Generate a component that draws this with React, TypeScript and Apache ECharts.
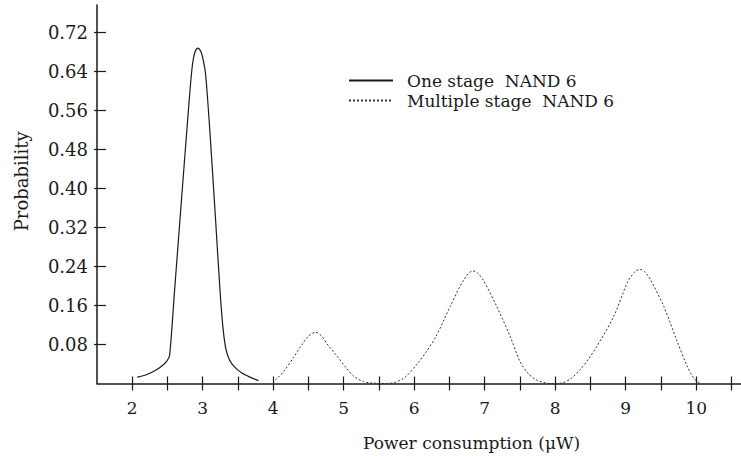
import React, { useEffect, useRef } from "react";
import * as echarts from "echarts";

const seriesNames = ["One stage  NAND 6", "Multiple stage  NAND 6"];

const oneStageX = [2.07, 2.2, 2.32, 2.42, 2.49, 2.53, 2.6, 2.7, 2.78, 2.83, 2.86, 2.89, 2.93, 2.97, 3.0, 3.04, 3.1, 3.18, 3.25, 3.29, 3.33, 3.38, 3.45, 3.55, 3.67, 3.79];
const oneStageY = [0.013, 0.018, 0.026, 0.036, 0.046, 0.058, 0.19, 0.38, 0.53, 0.62, 0.66, 0.68, 0.688, 0.682, 0.668, 0.635, 0.52, 0.34, 0.18, 0.11, 0.07, 0.048, 0.034, 0.022, 0.013, 0.006];

const multiStageX = [4.03, 4.15, 4.29, 4.38, 4.5, 4.6, 4.68, 4.78, 4.9, 5.03, 5.15, 5.28, 5.4, 5.55, 5.72, 5.87, 6.03, 6.17, 6.31, 6.51, 6.7, 6.83, 6.9, 6.98, 7.17, 7.36, 7.5, 7.62, 7.74, 7.93, 8.09, 8.22, 8.35, 8.47, 8.59, 8.83, 9.02, 9.12, 9.2, 9.27, 9.35, 9.54, 9.72, 9.87, 9.97, 10.06];
const multiStageY = [0.007, 0.025, 0.054, 0.074, 0.097, 0.105, 0.098, 0.078, 0.057, 0.033, 0.014, 0.004, 0.001, 0.0, 0.002, 0.013, 0.038, 0.065, 0.097, 0.158, 0.212, 0.231, 0.226, 0.212, 0.158, 0.097, 0.045, 0.02, 0.007, 0.0, 0.001, 0.01, 0.028, 0.05, 0.076, 0.138, 0.206, 0.228, 0.234, 0.229, 0.213, 0.158, 0.09, 0.036, 0.01, 0.0];

const yTickValues = [0.08, 0.16, 0.24, 0.32, 0.4, 0.48, 0.56, 0.64, 0.72];
const xTickValues = [2, 2.5, 3, 3.5, 4, 4.5, 5, 5.5, 6, 6.5, 7, 7.5, 8, 8.5, 9, 9.5, 10, 10.5];
const xLabelValues = [2, 3, 4, 5, 6, 7, 8, 9, 10];

const xTitle = "Power consumption (μW)";
const yTitle = "Probability";

const X_MIN = 1.5;
const X_MAX = 10.635;
const Y_MIN = 0;
const Y_MAX = 0.7764;

const FONT = "DejaVu Serif";
const INK = "#1a1a1a";

function zip(xs: number[], ys: number[]) {
  return xs.map((x, i) => [x, ys[i]]);
}

export default function App() {
  const ref = useRef<HTMLDivElement>(null);

  useEffect(() => {
    if (!ref.current) return;
    const chart = echarts.init(ref.current, null, { renderer: "svg" });
    const gridBox = { left: 97, right: 0, top: 5, bottom: 72.5 };
    chart.setOption({
      animation: false,
      backgroundColor: "#ffffff",
      title: {
        text: xTitle,
        left: 363,
        top: 434,
        padding: 0,
        textStyle: { fontFamily: FONT, fontSize: 17, fontWeight: "normal", color: INK },
      },
      legend: {
        orient: "vertical",
        left: 348,
        top: 72,
        padding: 0,
        itemWidth: 44,
        itemHeight: 14,
        itemGap: 3,
        data: seriesNames,
        itemStyle: { opacity: 0 },
        textStyle: { fontFamily: FONT, fontSize: 17, color: INK, padding: [0, 0, 0, 9] },
      },
      grid: [
        { ...gridBox, containLabel: false },
        { ...gridBox, containLabel: false },
      ],
      xAxis: [
        {
          type: "value",
          gridIndex: 0,
          min: X_MIN,
          max: X_MAX,
          splitLine: { show: false },
          axisLine: { show: true, lineStyle: { color: INK, width: 1.5 } },
          axisTick: { show: true, inside: true, length: 7, customValues: xTickValues, lineStyle: { color: INK, width: 1.2 } },
          axisLabel: {
            customValues: xLabelValues,
            margin: 16,
            fontFamily: FONT,
            fontSize: 17,
            color: INK,
            formatter: (v: number) => String(v),
          },
        },
        {
          type: "value",
          gridIndex: 1,
          min: X_MIN,
          max: X_MAX,
          splitLine: { show: false },
          axisLine: { show: false },
          axisTick: { show: true, inside: false, length: 7, customValues: xTickValues, lineStyle: { color: INK, width: 1.2 } },
          axisLabel: { show: false },
        },
      ],
      yAxis: [
        {
          type: "value",
          gridIndex: 0,
          min: Y_MIN,
          max: Y_MAX,
          name: yTitle,
          nameLocation: "middle",
          nameGap: 67,
          nameTextStyle: { fontFamily: FONT, fontSize: 18, color: INK, padding: [0, 0, 0, 26] },
          splitLine: { show: false },
          axisLine: { show: true, lineStyle: { color: INK, width: 1.5 } },
          axisTick: { show: true, inside: true, length: 9, customValues: yTickValues, lineStyle: { color: INK, width: 1.2 } },
          axisLabel: {
            customValues: yTickValues,
            margin: 9,
            fontFamily: FONT,
            fontSize: 18,
            color: INK,
            formatter: (v: number) => v.toFixed(2),
          },
        },
        {
          type: "value",
          gridIndex: 1,
          min: Y_MIN,
          max: Y_MAX,
          splitLine: { show: false },
          axisLine: { show: false },
          axisTick: { show: true, inside: false, length: 3, customValues: yTickValues, lineStyle: { color: INK, width: 1.2 } },
          axisLabel: { show: false },
        },
      ],
      series: [
        {
          name: seriesNames[0],
          type: "line",
          xAxisIndex: 0,
          yAxisIndex: 0,
          data: zip(oneStageX, oneStageY),
          symbol: "none",
          smooth: 0.25,
          lineStyle: { color: INK, width: 1.2, type: "solid" },
          itemStyle: { color: INK },
        },
        {
          name: seriesNames[1],
          type: "line",
          xAxisIndex: 0,
          yAxisIndex: 0,
          data: zip(multiStageX, multiStageY),
          symbol: "none",
          smooth: 0.3,
          lineStyle: { color: "#333333", width: 1, type: [2, 2] },
          itemStyle: { color: "#333333" },
        },
      ],
    });
    return () => chart.dispose();
  }, []);

  return (
    <div
      ref={ref}
      style={{ position: "fixed", left: 0, top: 0, width: 741, height: 456, background: "#fff" }}
    />
  );
}
